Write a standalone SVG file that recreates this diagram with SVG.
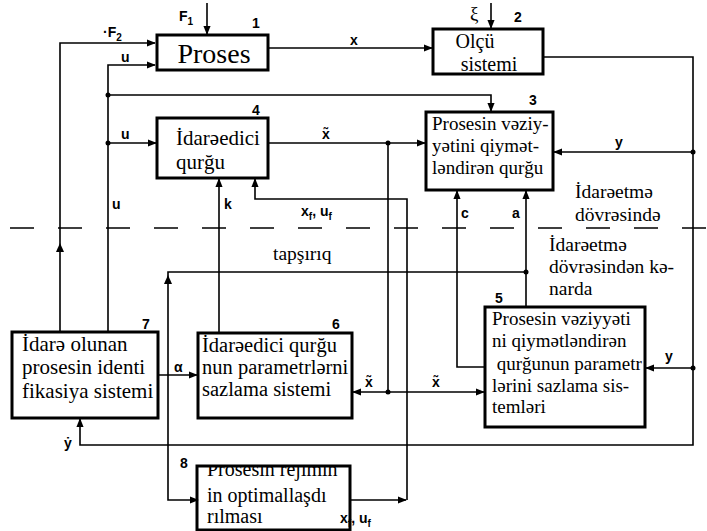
<svg xmlns="http://www.w3.org/2000/svg" width="707" height="531" viewBox="0 0 707 531">
<defs>
<marker id="ah" viewBox="0 0 10 10" refX="9" refY="5" markerWidth="9" markerHeight="9" markerUnits="userSpaceOnUse" orient="auto">
<path d="M0,1 L10,5 L0,9 Z" fill="#000"/>
</marker>
</defs>
<style>
.box{fill:#fff;stroke:#000;stroke-width:3}
.ln{fill:none;stroke:#000;stroke-width:1.6}
.ar{fill:none;stroke:#000;stroke-width:1.6;marker-end:url(#ah)}
.dot{fill:#000}
.s{font-family:'Liberation Sans',Arial,sans-serif;font-weight:bold;font-size:14px;fill:#000}
.sub{font-size:10px}
.dash{fill:none;stroke:#000;stroke-width:1.6;stroke-dasharray:24 24}
</style>
<rect width="707" height="531" fill="#fff"/>
<line class="dash" x1="10" y1="228" x2="707" y2="228"/>
<g id="connectors">
<path class="ar" d="M207,3 V34"/>
<path class="ar" d="M491,3 V28"/>
<path class="ar" d="M60,332 V43 H155"/>
<path d="M56,252 L60,243 L64,252 Z" fill="#000"/>
<path class="ar" d="M108,332 V65 H155"/>
<path class="ar" d="M268,48 H432"/>
<path class="ar" d="M108,95 H491 V111"/>
<circle class="dot" cx="108" cy="95" r="2.5"/>
<path class="ar" d="M108,143 H156"/>
<circle class="dot" cx="108" cy="143" r="2.5"/>
<path class="ar" d="M268,143 H425"/>
<circle class="dot" cx="388" cy="143" r="2.5"/>
<path class="ln" d="M388,143 V392"/>
<circle class="dot" cx="388" cy="392" r="2.5"/>
<path class="ar" d="M420,392 H353"/>
<path class="ar" d="M420,392 H484"/>
<path class="ar" d="M543,57 H693 V445 H80 V419"/>
<path class="ar" d="M693,152 H554"/>
<circle class="dot" cx="693" cy="152" r="2.5"/>
<path class="ar" d="M693,368 H646"/>
<circle class="dot" cx="693" cy="368" r="2.5"/>
<path class="ar" d="M485,367 H457 V191"/>
<path class="ar" d="M526,307 V191"/>
<circle class="dot" cx="526" cy="272" r="2.5"/>
<path class="ar" d="M526,272 H168 V500 H198"/>
<path d="M164,284 L168,275 L172,284 Z" fill="#000"/>
<path class="ar" d="M219,333 V179"/>
<path class="ar" d="M350,500 H406"/>
<path class="ar" d="M407,500 V199 H255 V179"/>
<path class="ar" d="M158,375 H197"/>
</g>
<g font-family="'Liberation Serif','DejaVu Serif','Times New Roman',serif" fill="#000">
<g id="n1">
<rect class="box" x="157" y="35" width="111" height="35"/>
<text x="214" y="63" font-size="28" text-anchor="middle">Proses</text>
</g>
<g id="n2">
<rect class="box" x="433" y="29" width="110" height="45"/>
<text x="475" y="48" font-size="20" text-anchor="middle">Olçü</text>
<text x="489" y="71" font-size="20" text-anchor="middle">sistemi</text>
</g>
<g id="n3">
<rect class="box" x="426" y="112" width="127" height="78"/>
<text x="432" y="130" font-size="19">Prosesin vəziy-</text>
<text x="432" y="152" font-size="19">yətini qiymət-</text>
<text x="432" y="174" font-size="19">ləndirən qurğu</text>
</g>
<g id="n4">
<rect class="box" x="157" y="118" width="111" height="60"/>
<text x="176" y="145" font-size="21">İdarəedici</text>
<text x="176" y="169" font-size="21">qurğu</text>
</g>
<g id="n5">
<rect class="box" x="485" y="307" width="160" height="120"/>
<text x="492" y="325" font-size="19">Prosesin vəziyyəti</text>
<text x="492" y="347" font-size="19">ni qiymətləndirən</text>
<text x="492" y="370" font-size="19" xml:space="preserve"> qurğunun parametr</text>
<text x="492" y="392" font-size="19">lərini sazlama sis-</text>
<text x="492" y="413" font-size="19">temləri</text>
</g>
<g id="n6">
<rect class="box" x="198" y="333" width="154" height="85"/>
<text x="202" y="352" font-size="20.5">İdarəedici qurğu</text>
<text x="202" y="374" font-size="20.5">nun parametrlərni</text>
<text x="202" y="396" font-size="20.5">sazlama sistemi</text>
</g>
<g id="n7">
<rect class="box" x="12" y="332" width="146" height="86"/>
<text x="22" y="351" font-size="21">İdarə olunan</text>
<text x="22" y="374" font-size="21">prosesin identi</text>
<text x="22" y="398" font-size="21">fikasiya sistemi</text>
</g>
<g id="n8">
<svg x="197" y="466" width="153" height="65" overflow="hidden">
<text x="10" y="10" font-size="20">Prosesin rejimin</text>
</svg>
<rect x="197" y="466" width="153" height="64" fill="none" stroke="#000" stroke-width="3"/>
<text x="207" y="502" font-size="20">in optimallaşdı</text>
<text x="207" y="523" font-size="20">rılması</text>
</g>
<text x="273" y="260" font-size="19.5">tapşırıq</text>
<text x="575" y="198" font-size="19.5">İdarəetmə</text>
<text x="575" y="221" font-size="19.5">dövrəsində</text>
<text x="549" y="251" font-size="19.5">İdarəetmə</text>
<text x="549" y="273" font-size="19.5">dövrəsindən kə-</text>
<text x="549" y="295" font-size="19.5">narda</text>
<text x="470" y="20" font-size="19">ξ</text>
</g>
<g id="labels">
<text class="s" x="252" y="28">1</text>
<text class="s" x="514" y="22">2</text>
<text class="s" x="529" y="105">3</text>
<text class="s" x="252" y="115">4</text>
<text class="s" x="495" y="303">5</text>
<text class="s" x="332" y="329">6</text>
<text class="s" x="142" y="329">7</text>
<text class="s" x="180" y="468">8</text>
<text class="s" x="179" y="21">F<tspan class="sub" dy="4">1</tspan></text>
<text class="s" x="103" y="37">·F<tspan class="sub" dy="4">2</tspan></text>
<text class="s" x="350" y="45">x</text>
<text class="s" x="121" y="62">u</text>
<text class="s" x="121" y="139">u</text>
<text class="s" x="322" y="139">x̃</text>
<text class="s" x="615" y="147">y</text>
<text class="s" x="224" y="209">k</text>
<text class="s" x="112" y="209">u</text>
<text class="s" x="301" y="216">x<tspan class="sub" dy="4">f</tspan><tspan dy="-4">, u</tspan><tspan class="sub" dy="4">f</tspan></text>
<text class="s" x="461" y="218">c</text>
<text class="s" x="512" y="218">a</text>
<text class="s" x="174" y="372">α</text>
<text class="s" x="365" y="387">x̃</text>
<text class="s" x="432" y="387">x̃</text>
<text class="s" x="665" y="361">y</text>
<text class="s" x="64" y="448">ẏ</text>
<text class="s" x="340" y="523">x<tspan class="sub" dy="4">f</tspan><tspan dy="-4">, u</tspan><tspan class="sub" dy="4">f</tspan></text>
</g>
</svg>
